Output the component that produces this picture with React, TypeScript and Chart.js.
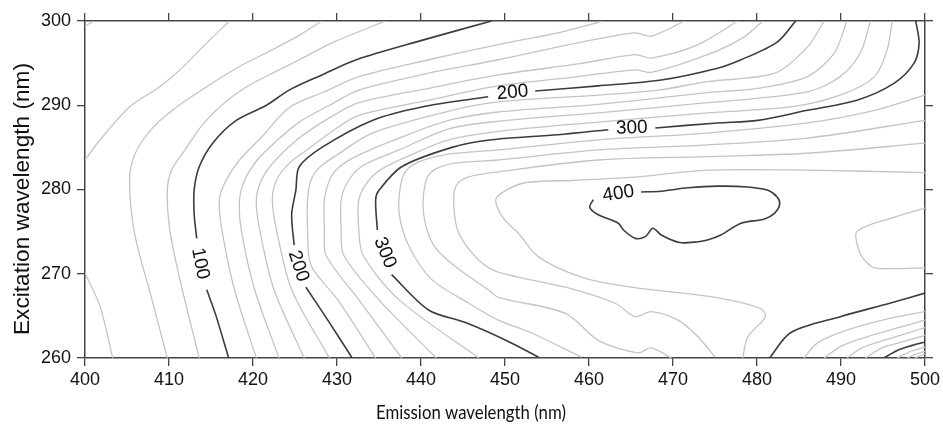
import React, { useEffect, useRef } from "react";
import { Chart, registerables } from "chart.js";

Chart.register(...registerables);

type P = [number, number];

// Axis ticks
const xTicks = [400, 410, 420, 430, 440, 450, 460, 470, 480, 490, 500];
const yTicks = [260, 270, 280, 290, 300];

// Contour lines, [emission nm, excitation nm]
const c20: P[] = [[400, 299.4], [401.1, 300]];
const c40a: P[] = [[400, 283.5], [401.8, 285.9], [405.3, 289.8], [408.9, 292.2], [411.3, 294.2], [414.5, 297.4], [417.2, 300]];
const c40b: P[] = [[400, 270.1], [401.8, 266.1], [403.3, 260]];
const c60: P[] = [[409.8, 260], [407.9, 267.2], [405.9, 274.8], [405.3, 281.1], [405.9, 284.1], [407.7, 286.9], [410.4, 289.4], [414.5, 292.2], [418.4, 294.6], [422.3, 296.6], [425.5, 298.3], [428.2, 300]];
const c80: P[] = [[413.6, 260], [411.3, 269.3], [410.1, 275.2], [409.8, 279.9], [410.3, 282.3], [411.9, 284.7], [414, 287.7], [416.6, 290.3], [419.6, 292.4], [422.5, 293.9], [425.5, 295.4], [429.4, 297.4], [435.8, 300]];
const c100a: P[] = [[417.1, 260], [415.6, 265], [414.5, 268.1]];
const c100b: P[] = [[413.3, 274.2], [413, 277], [413, 280], [413.6, 282.7], [415.2, 285.5], [418, 288.2], [421.6, 290], [424.3, 291.8], [428.2, 293.6], [432.3, 295.4], [440.1, 297.7], [448.4, 300]];
const c120: P[] = [[420.4, 260], [417.8, 268.1], [416.3, 275.2], [416, 278.8], [416.8, 281.1], [418.4, 283.5], [421, 286.2], [424.3, 289.7], [428.5, 291.6], [432.6, 293.4], [440.9, 295.4], [449.2, 297.2], [456.3, 298.6], [461.7, 300]];
const c140: P[] = [[423.1, 260], [420.2, 268.1], [418.6, 275.2], [418.4, 278.8], [419, 281.1], [420.5, 283.5], [422.5, 285.5], [425.5, 288], [429.1, 290], [432.6, 291.8], [440.9, 293.8], [449.2, 295.4], [459.1, 297.5], [465.5, 298.6], [467.4, 298.2], [471.4, 300]];
const c160: P[] = [[426.1, 260], [422.5, 268.1], [420.8, 275.2], [420.4, 278.8], [421, 281.1], [422.5, 283.3], [425.5, 286.1], [429.1, 288.5], [432.6, 290.3], [440.9, 292], [449.2, 293.6], [458.7, 294.9], [465.5, 296], [467.4, 295.6], [473, 297.2], [477.7, 300]];
const c180: P[] = [[429.1, 260], [424.6, 268.1], [422.8, 275.2], [422.3, 278.8], [422.8, 281.1], [424.3, 283.1], [426.7, 284.9], [429.7, 287.1], [432.6, 288.8], [440.9, 290.6], [449.2, 292.3], [458.7, 293.4], [465.5, 294.2], [467.4, 293.9], [474.1, 296], [478.3, 298], [480.7, 300]];
const c200a: P[] = [[431.8, 260], [429.1, 264.2], [426.3, 268.4]];
const c200b: P[] = [[424.9, 273.4], [424.6, 277], [425.1, 279.9], [425.5, 282.7], [428.2, 285], [434.2, 288.2], [440.1, 289.8], [448, 291]];
const c200c: P[] = [[453.6, 291.7], [461.1, 292.3], [468.6, 293], [475.3, 294.4], [478.1, 295.4], [482.4, 297.5], [484.6, 300]];
const c220: P[] = [[434.6, 260], [430.1, 266.9], [426.9, 271], [426.5, 275.2], [426.5, 278.8], [426.9, 281.1], [427.9, 282.6], [430, 284.1], [434.2, 286.7], [443.3, 289.3], [449.2, 290.4], [461.1, 291.2], [468.2, 291.8], [474.1, 292.8], [482.1, 293.8], [486, 296.9], [488, 300]];
const c240: P[] = [[437.7, 260], [432.6, 266.9], [428.7, 272.2], [428.5, 275.2], [428.5, 278.8], [429.1, 281.1], [430.2, 282.6], [432.6, 284.1], [437.4, 286.1], [443.3, 288.2], [449.2, 289.2], [461.1, 290.1], [474.1, 291.5], [480.1, 292], [486, 293.4], [489.2, 296.2], [490.7, 300]];
const c260: P[] = [[441.8, 260], [435, 266.9], [430.8, 272.2], [430.5, 275.2], [430.5, 278.8], [431.4, 281.1], [433.2, 282.9], [437.4, 284.7], [443.3, 287.2], [449.2, 288.1], [461.1, 289.1], [474.1, 290.3], [486, 291.6], [489.9, 293.4], [492.3, 296.2], [493.5, 300]];
const c280: P[] = [[446.9, 260], [437.4, 266.9], [433.1, 272.2], [432.6, 275.2], [432.6, 278.8], [433.8, 281.1], [435.6, 282.6], [439.7, 284.5], [443.3, 285.9], [449.2, 286.9], [461.1, 288], [474.1, 289.1], [484, 289.8], [489.9, 291.2], [494, 293.4], [495.5, 296.6], [496.1, 300]];
const c300a: P[] = [[454, 260.1], [450.1, 262.1], [445.3, 264.2], [440.9, 265.7], [436.5, 269.9]];
const c300b: P[] = [[434.8, 275.2], [434.6, 278.8], [435, 279.9], [437.7, 282.7], [443.7, 285], [448.4, 285.9], [456.3, 286.5], [462.3, 287.1]];
const c300c: P[] = [[467.9, 287.3], [475.3, 287.9], [480.1, 288.2], [486, 289.4], [491.9, 290.6], [496.3, 292.6], [498.7, 295], [499.3, 297.4], [498.9, 300]];
const c300d: P[] = [[481.5, 260], [484, 263], [489.9, 264.9], [495.8, 266.5], [500, 267.7]];
const c280r: P[] = [[485.6, 260], [487.2, 261.8], [490.7, 263.3], [495.8, 264.7], [500, 265.5]];
const c260r: P[] = [[488, 260], [490.2, 261.5], [493.7, 262.7], [500, 264.5]];
const c240r: P[] = [[490.7, 260], [492.5, 261.2], [496.1, 262.4], [500, 263.6]];
const c220r: P[] = [[492.9, 260], [494.9, 261.2], [497.3, 261.9], [500, 262.7]];
const c200r: P[] = [[495.1, 260], [496.7, 260.9], [498.5, 261.5], [500, 261.9]];
const c180r: P[] = [[496.7, 260], [498.3, 260.8], [500, 261.3]];
const c160r: P[] = [[497.9, 260], [499, 260.5], [500, 260.8]];
const c140r: P[] = [[498.8, 260], [500, 260.5]];
const c320: P[] = [[459.1, 260.1], [453.1, 263], [449.2, 264.5], [445.7, 266.5], [441.3, 269.3], [438.6, 273.2], [437.4, 277.2], [437.7, 281.1], [438.6, 282.6], [440.3, 283.5], [443.3, 284.2], [449.2, 284.7], [461.1, 285.9], [474.1, 286.7], [486, 287.9], [494, 289.4], [500, 291.2]];
const c340: P[] = [[469.8, 260], [467.4, 261.2], [465.8, 260.6], [461.1, 262.1], [457.2, 265.3], [449.2, 267.2], [448, 268.1], [443.9, 271], [441.5, 273.4], [440.3, 277.2], [440.6, 281.1], [441.5, 282.3], [443.9, 283.1], [449.2, 283.5], [461.1, 284.7], [474.1, 285.3], [486, 286.1], [500, 288.2]];
const c360: P[] = [[475, 260.1], [473, 262.5], [470.6, 264.5], [467.4, 265.5], [465.5, 264.9], [463.1, 266.5], [457.2, 268.4], [449.2, 270.2], [446.9, 271.6], [444.5, 274.8], [443.9, 278.2], [444.2, 280.5], [445.7, 281.5], [449.2, 282.1], [461.1, 283.5], [474.1, 283.9], [486, 284.3], [500, 285.5]];
const c380: P[] = [[500, 282], [486, 282.3], [474.1, 282.3], [465.8, 281.5], [458.4, 281.1], [452.4, 280.8], [450.1, 279.9], [448.9, 278.8], [449.8, 276.6], [451.6, 274.8], [454, 272], [459.1, 269.6], [465, 268.4], [475, 267.2], [480.4, 265.9], [481, 264.9], [478.9, 262.5], [478.3, 260]];
const c380r: P[] = [[500, 277.8], [496.3, 276.7], [491.9, 275], [492.2, 272.6], [493.1, 271.3], [494, 270.7], [496.3, 270.6], [500, 270.7]];
const c400: P[] = [[466.2, 279.7], [468.6, 279.8], [471.8, 280.2], [475.3, 280.4], [478.9, 280.3], [481.3, 279.9], [482.4, 279.1], [482.7, 278.2], [482.1, 277.2], [480.9, 276.5], [478.1, 276], [475.7, 274.6], [474.1, 274], [473, 273.8], [470.8, 273.7], [468.6, 274.6], [467.6, 275.4], [466.7, 274.4], [465.5, 274.2], [464.1, 275.2], [463.5, 276], [461.1, 277], [460.1, 277.9], [460.5, 278.8]];

const grayLines: P[][] = [c20, c40a, c40b, c60, c80, c120, c140, c160, c180, c220, c240, c260, c280,
  c280r, c260r, c240r, c220r, c180r, c160r, c140r, c320, c340, c360, c380, c380r];
const darkLines: P[][] = [c100a, c100b, c200a, c200b, c200c, c300a, c300b, c300c, c300d, c200r, c400];

// Contour labels: text, emission, excitation, angle (deg)
const labelText = ["100", "200", "300", "200", "300", "400"];
const labelX = [413.7, 425.4, 435.7, 450.9, 465.1, 463.5];
const labelY = [271.2, 270.9, 272.5, 291.5, 287.3, 279.5];
const labelAngle = [79, 72, 68, -5, -2, -9];

const xTitle = "Emission wavelength (nm)";
const yTitle = "Excitation wavelength (nm)";

const SANS = '"Liberation Sans", Arial, Helvetica, sans-serif';
const TITLE_X = 'Lato, "Open Sans", sans-serif';

const decorPlugin = {
  id: "decor",
  afterDatasetsDraw(chart: any) {
    const { ctx, scales } = chart;
    const xs = scales.x, ys = scales.y;
    ctx.save();
    ctx.fillStyle = "#111";
    ctx.textAlign = "center";
    ctx.textBaseline = "middle";
    ctx.font = `19px ${SANS}`;
    for (let i = 0; i < labelText.length; i++) {
      const px = xs.getPixelForValue(labelX[i]);
      const py = ys.getPixelForValue(labelY[i]);
      ctx.save();
      ctx.translate(px, py);
      ctx.rotate((labelAngle[i] * Math.PI) / 180);
      ctx.fillText(labelText[i], 0, 0);
      ctx.restore();
    }
    ctx.restore();
  },
  afterDraw(chart: any) {
    const { ctx } = chart;
    ctx.save();
    ctx.fillStyle = "#111";
    ctx.textAlign = "center";
    ctx.textBaseline = "middle";
    // bottom title: Calibri-like narrow text, fitted to its width
    ctx.save();
    ctx.font = `19px ${TITLE_X}`;
    const w = ctx.measureText(xTitle).width;
    ctx.translate(471, 413);
    ctx.scale(190 / w, 1);
    ctx.fillText(xTitle, 0, 0);
    ctx.restore();
    // left title
    ctx.font = `20px ${SANS}`;
    const wy = ctx.measureText(yTitle).width;
    const fy = Math.min(23, (20 * 272) / wy);
    ctx.font = `${fy.toFixed(2)}px ${SANS}`;
    ctx.translate(23, 199);
    ctx.rotate(-Math.PI / 2);
    ctx.fillText(yTitle, 0, 0);
    ctx.restore();
  },
};

const toXY = (pts: P[]) => pts.map(([x, y]) => ({ x, y }));

export default function App() {
  const ref = useRef<HTMLCanvasElement>(null);
  useEffect(() => {
    const datasets: any[] = [];
    grayLines.forEach((l) =>
      datasets.push({
        data: toXY(l),
        showLine: true,
        borderColor: "#c4c4c4",
        borderWidth: 1.3,
        pointRadius: 0,
        tension: 0.3,
        xAxisID: "x",
        yAxisID: "y",
      })
    );
    darkLines.forEach((l) =>
      datasets.push({
        data: toXY(l),
        showLine: true,
        borderColor: "#3c3c3c",
        borderWidth: 1.6,
        pointRadius: 0,
        tension: 0.3,
        xAxisID: "x",
        yAxisID: "y",
      })
    );
    const grid = { drawOnChartArea: false, drawTicks: true, tickLength: 8, color: "#444", lineWidth: 1.3 };
    const border = { display: true, color: "#444", width: 1.5 };
    const tickFont = { family: SANS, size: 18 };
    const chart = new Chart(ref.current as HTMLCanvasElement, {
      type: "scatter",
      data: { datasets },
      plugins: [decorPlugin],
      options: {
        responsive: false,
        animation: false,
        devicePixelRatio: 1,
        events: [],
        layout: { padding: 0 },
        plugins: { legend: { display: false }, tooltip: { enabled: false } },
        scales: {
          x: {
            type: "linear", position: "bottom", min: 400, max: 500,
            afterBuildTicks: (s: any) => { s.ticks = xTicks.map((v) => ({ value: v })); },
            afterFit: (s: any) => { s.height = 71; },
            ticks: { color: "#111", font: tickFont, padding: 3, maxRotation: 0, autoSkip: false },
            grid, border,
          },
          xTop: {
            type: "linear", position: "top", min: 400, max: 500,
            afterBuildTicks: (s: any) => { s.ticks = xTicks.map((v) => ({ value: v })); },
            afterFit: (s: any) => { s.height = 21; },
            ticks: { display: false },
            grid, border,
          },
          y: {
            type: "linear", position: "left", min: 260, max: 300,
            afterBuildTicks: (s: any) => { s.ticks = yTicks.map((v) => ({ value: v })); },
            afterFit: (s: any) => { s.width = 85; },
            ticks: { color: "#111", font: tickFont, padding: 6, autoSkip: false },
            grid, border,
          },
          yRight: {
            type: "linear", position: "right", min: 260, max: 300,
            afterBuildTicks: (s: any) => { s.ticks = yTicks.map((v) => ({ value: v })); },
            afterFit: (s: any) => { s.width = 15; },
            ticks: { display: false },
            grid, border,
          },
        },
      } as any,
    });
    return () => chart.destroy();
  }, []);
  return (
    <div style={{ position: "absolute", left: 0, top: 0, width: 943, height: 429, background: "#fff" }}>
      <canvas ref={ref} width={943} height={429} style={{ display: "block", width: 943, height: 429 }} />
    </div>
  );
}
